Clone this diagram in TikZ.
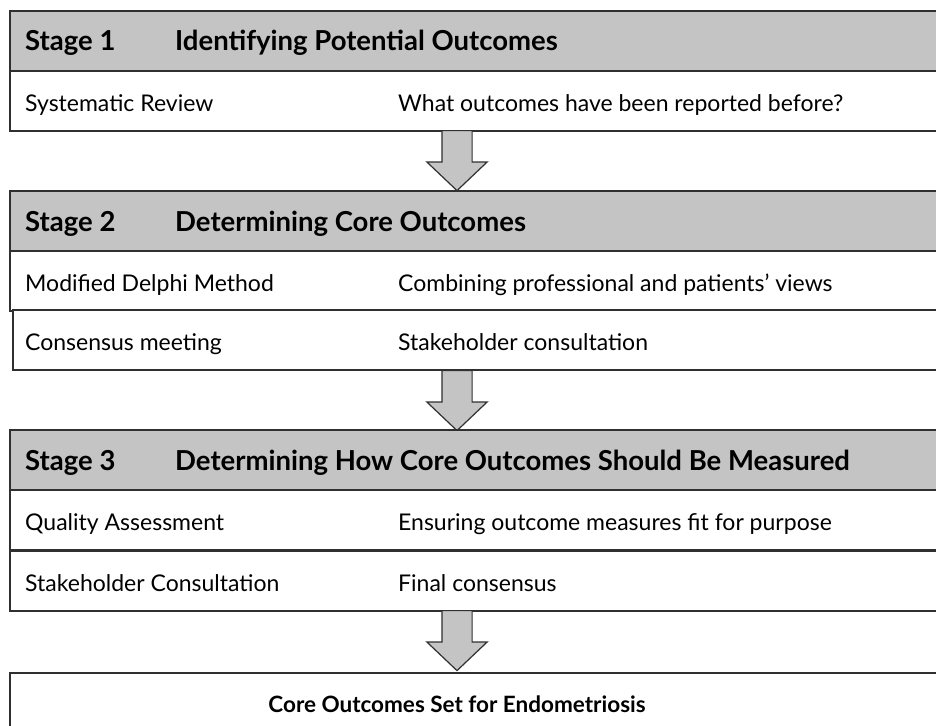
\documentclass[tikz,border=0pt]{standalone}
\usepackage{fontspec}
\setmainfont{Lato}
\usetikzlibrary{shapes.arrows}
\definecolor{hdrgray}{HTML}{C4C4C4}
\definecolor{linegray}{HTML}{303030}
\begin{document}
\begin{tikzpicture}[x=1pt,y=-1pt,
  hdr/.style={rectangle, draw=linegray, line width=1.6pt, fill=hdrgray, minimum width=950pt, minimum height=60pt, anchor=north west, inner sep=0pt},
  row/.style={rectangle, draw=linegray, line width=1.6pt, fill=white, minimum width=950pt, minimum height=60pt, anchor=north west, inner sep=0pt},
  txt/.style={anchor=base west, inner sep=0pt, font=\fontsize{23}{27}\selectfont},
  htxt/.style={anchor=base west, inner sep=0pt, font=\fontsize{27.5}{31}\selectfont\bfseries},
  stagearrow/.style={single arrow, draw=linegray, line width=1.2pt, fill=hdrgray, rotate=-90, anchor=tail, minimum height=60pt, inner xsep=0pt, inner ysep=14.5pt, single arrow head extend=15pt, single arrow tip angle=93}]
\useasboundingbox (0,0) rectangle (936,725);
% stage 1
\node[hdr] (s1) at (9,10){};
\node[row] (r11) at (9,70){};
\node[htxt] (s1a) at (25,51){Stage 1};
\node[htxt] (s1b) at (175,51){Identifying Potential Outcomes};
\node[txt] (t11a) at (25,111){Systematic Review};
\node[txt] (t11b) at (398,111){What outcomes have been reported before?};
\node[stagearrow] (a1) at (457,130){};
% stage 2
\node[hdr] (s2) at (9,190){};
\node[row] (r21) at (9,250){};
\node[row] (r22) at (12,309){};
\node[htxt] (s2a) at (25,231){Stage 2};
\node[htxt] (s2b) at (175,231){Determining Core Outcomes};
\node[txt] (t21a) at (25,291){Modified Delphi Method};
\node[txt] (t21b) at (398,291){Combining professional and patients’ views};
\node[txt] (t22a) at (25,350){Consensus meeting};
\node[txt] (t22b) at (398,350){Stakeholder consultation};
\node[stagearrow] (a2) at (457,370){};
% stage 3
\node[hdr] (s3) at (9,429){};
\node[row] (r31) at (9,489){};
\node[row] (r32) at (9,550){};
\node[htxt] (s3a) at (25,470){Stage 3};
\node[htxt] (s3b) at (175,470){Determining How Core Outcomes Should Be Measured};
\node[txt] (t31a) at (25,530){Quality Assessment};
\node[txt] (t31b) at (398,530){Ensuring outcome measures fit for purpose};
\node[txt] (t32a) at (25,591){Stakeholder Consultation};
\node[txt] (t32b) at (398,591){Final consensus};
\node[stagearrow] (a3) at (457,610){};
% core set
\node[row, minimum height=80pt] (cos) at (9,672){};
\node[htxt, anchor=base, font=\fontsize{22.5}{26}\selectfont\bfseries] (cost) at (457,712){Core Outcomes Set for Endometriosis};
\end{tikzpicture}
\end{document}
